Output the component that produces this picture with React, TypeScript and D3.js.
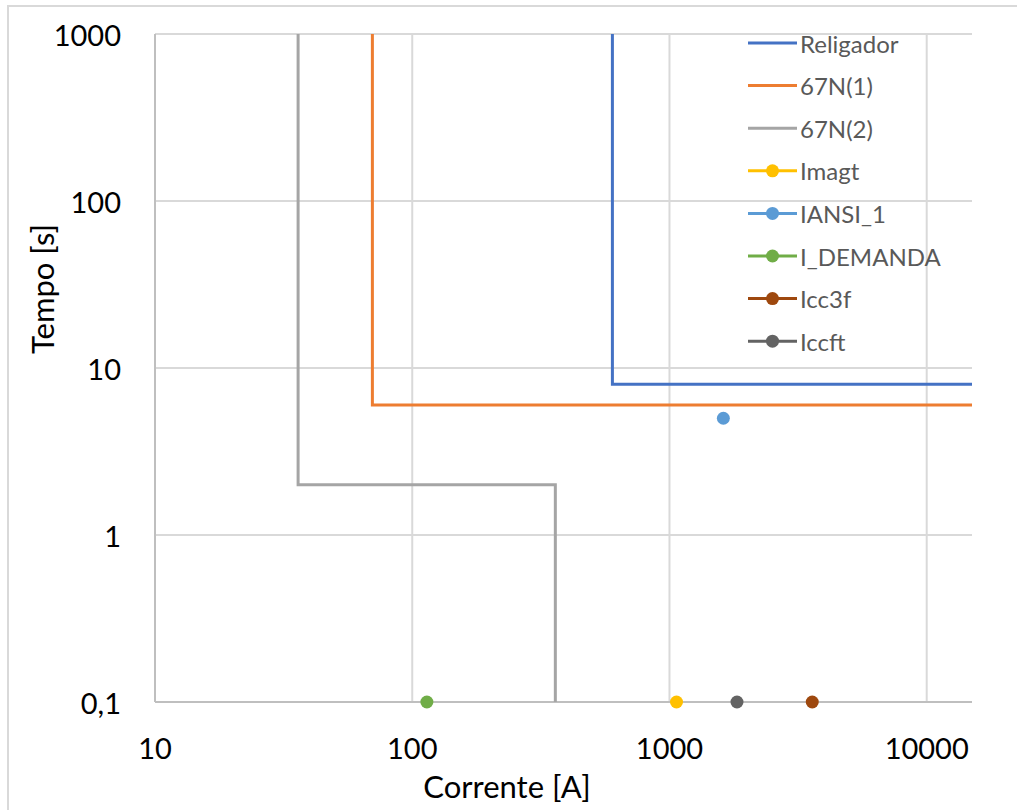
import React from "react";
import * as d3 from "d3";

const xTicks = [10, 100, 1000, 10000];
const yTicks = [0.1, 1, 10, 100, 1000];
const yTickLabels = ["0,1", "1", "10", "100", "1000"];

const religador: [number, number][] = [[600, 1000], [600, 8], [15000, 8]];
const n67_1: [number, number][] = [[70, 1000], [70, 6], [15000, 6]];
const n67_2: [number, number][] = [[36, 1000], [36, 2], [360, 2], [360, 0.1]];

const pointNames = ["Imagt", "IANSI_1", "I_DEMANDA", "Icc3f", "Iccft"];
const pointX = [1065, 1620, 114, 3590, 1830];
const pointY = [0.1, 5, 0.1, 0.1, 0.1];
const pointColors = ["#FFC000", "#5B9BD5", "#70AD47", "#9E480E", "#636363"];

const lineNames = ["Religador", "67N(1)", "67N(2)"];
const lineColors = ["#4472C4", "#ED7D31", "#A5A5A5"];
const lineData = [religador, n67_1, n67_2];

const legendNames = ["Religador", "67N(1)", "67N(2)", "Imagt", "IANSI_1", "I_DEMANDA", "Icc3f", "Iccft"];
const legendColors = ["#4472C4", "#ED7D31", "#A5A5A5", "#FFC000", "#5B9BD5", "#70AD47", "#9E480E", "#636363"];
const legendMarker = [false, false, false, true, true, true, true, true];

export default function App() {
  const W = 1017, H = 810;
  const left = 155, right = 972, top = 34, bottom = 702;
  const x = d3.scaleLog().domain([10, 15000]).range([left, right]);
  const y = d3.scaleLog().domain([0.1, 1000]).range([bottom, top]);
  const line = d3.line<[number, number]>().x(d => x(d[0])).y(d => y(d[1]));
  const font = "Lato, 'Open Sans', sans-serif";

  return (
    <svg width={W} height={H} style={{ position: "absolute", left: 0, top: 0, background: "#fff" }}>
      <rect x={8} y={6} width={1030} height={830} fill="#fff" stroke="#d9d9d9" strokeWidth={2} />
      {/* grid */}
      {yTicks.slice(1).map((t, i) => (
        <line key={"gy" + i} x1={left} x2={right} y1={y(t)} y2={y(t)} stroke="#d9d9d9" strokeWidth={2} />
      ))}
      {xTicks.slice(1).map((t, i) => (
        <line key={"gx" + i} x1={x(t)} x2={x(t)} y1={top} y2={bottom} stroke="#d9d9d9" strokeWidth={2} />
      ))}
      {/* axes */}
      <line x1={left} x2={left} y1={top} y2={bottom} stroke="#bfbfbf" strokeWidth={2} />
      <line x1={left} x2={right} y1={bottom} y2={bottom} stroke="#bfbfbf" strokeWidth={2} />
      {/* series lines */}
      {lineData.map((d, i) => (
        <path key={"l" + i} d={line(d) || ""} fill="none" stroke={lineColors[i]} strokeWidth={3} />
      ))}
      {/* points */}
      {pointX.map((v, i) => (
        <circle key={"p" + i} cx={x(v)} cy={y(pointY[i])} r={6.5} fill={pointColors[i]} />
      ))}
      {/* y tick labels */}
      {yTicks.map((t, i) => (
        <text key={"yt" + i} x={121} y={y(t)} textAnchor="end" dominantBaseline="central" fontFamily={font} fontSize={29} fill="#000">
          {yTickLabels[i]}
        </text>
      ))}
      {/* x tick labels */}
      {xTicks.map((t, i) => (
        <text key={"xt" + i} x={x(t)} y={747} textAnchor="middle" dominantBaseline="central" fontFamily={font} fontSize={29} fill="#000">
          {String(t)}
        </text>
      ))}
      <text x={507} y={786} textAnchor="middle" dominantBaseline="central" fontFamily={font} fontSize={31} fill="#000">
        Corrente [A]
      </text>
      <text transform="translate(42,289) rotate(-90)" textAnchor="middle" dominantBaseline="central" fontFamily={font} fontSize={31} fill="#000">
        Tempo [s]
      </text>
      {/* legend */}
      {legendNames.map((n, i) => {
        const ly = 43 + i * 42.6;
        return (
          <g key={"lg" + i}>
            <line x1={748} x2={797} y1={ly} y2={ly} stroke={legendColors[i]} strokeWidth={3} />
            {legendMarker[i] && <circle cx={772.5} cy={ly} r={6.5} fill={legendColors[i]} />}
            <text x={800} y={ly} dominantBaseline="central" fontFamily={font} fontSize={24} fill="#595959">
              {n}
            </text>
          </g>
        );
      })}
    </svg>
  );
}
